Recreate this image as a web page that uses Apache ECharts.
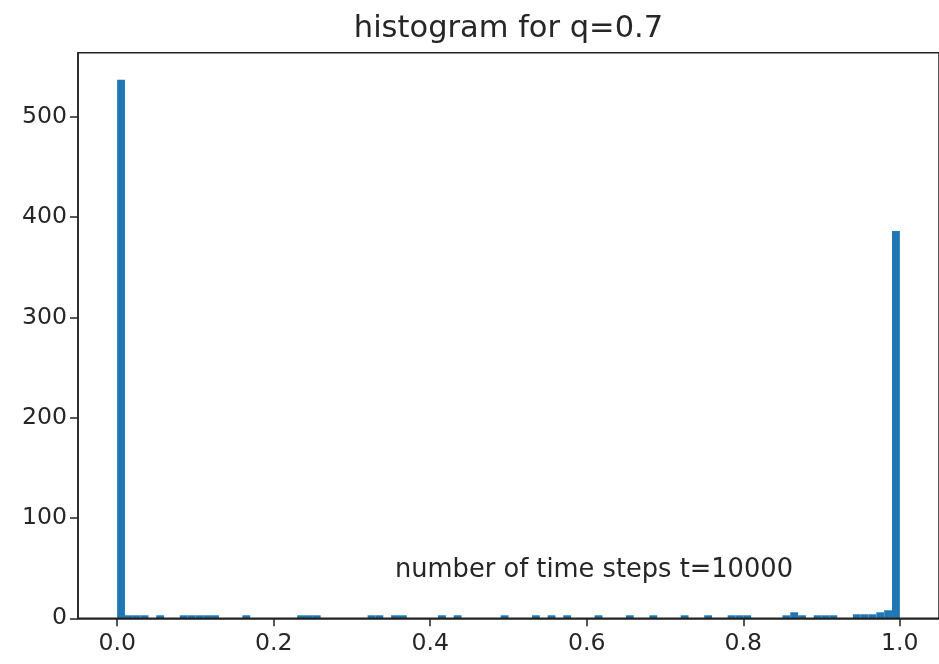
<!DOCTYPE html>
<html><head><meta charset="utf-8">
<script src="https://cdn.jsdelivr.net/npm/echarts@6/dist/echarts.min.js"></script>
<style>html,body{margin:0;padding:0;background:#fff}#c{width:939px;height:664px}</style>
</head><body><div id="c"></div>
<script>
const titleText = 'histogram for q=0.7';
const noteText = 'number of time steps t=10000';
const notePos = [0.355, 40];
const binWidth = 0.01;
const binIndex = [0, 1, 2, 3, 5, 8, 9, 10, 11, 12, 16, 23, 24, 25, 32, 33, 35, 36, 41, 43, 49, 53, 55, 57, 61, 65, 68, 72, 75, 78, 79, 80, 85, 86, 87, 89, 90, 91, 94, 95, 96, 97, 98, 99];
const counts   = [537, 3, 3, 3, 3, 3, 3, 3, 3, 3, 3, 3, 3, 3, 3, 3, 3, 3, 3, 3, 3, 3, 3, 3, 3, 3, 3, 3, 3, 3, 3, 3, 3, 6, 3, 3, 3, 3, 4, 4, 4, 6, 8, 386];
const xTicks = [0, 0.2, 0.4, 0.6, 0.8, 1.0];
const yTicks = [0, 100, 200, 300, 400, 500];

const FONT = 'DejaVu Sans';
const TXT = '#262626';
const AX = '#222';

const histData = binIndex.map((b, i) => [b * binWidth, (b + 1) * binWidth, counts[i]]);
const yMax = Math.max(...counts) * 1.05;

const chart = echarts.init(document.getElementById('c'), null, {renderer: 'canvas'});
chart.setOption({
  animation: false,
  backgroundColor: '#fff',
  grid: {left: 78, top: 52.7, bottom: 45.7, right: -10.6, show: true, borderColor: AX, borderWidth: 1.5, backgroundColor: 'transparent', z: 10},
  xAxis: {
    type: 'value', min: -0.05, max: 1.05, z: 10,
    splitLine: {show: false},
    axisLine: {show: true, onZero: false, lineStyle: {color: AX, width: 1.5}},
    axisTick: {show: true, length: 8, lineStyle: {color: AX, width: 1.5}, customValues: xTicks},
    axisLabel: {customValues: xTicks, margin: 14, fontFamily: FONT, fontSize: 23.6, color: TXT,
      formatter: v => v.toFixed(1)}
  },
  yAxis: {
    type: 'value', min: 0, max: yMax, z: 10,
    splitLine: {show: false},
    axisLine: {show: true, onZero: false, lineStyle: {color: AX, width: 1.5}},
    axisTick: {show: true, length: 8, lineStyle: {color: AX, width: 1.5}, customValues: yTicks},
    axisLabel: {customValues: yTicks, margin: 11, fontFamily: FONT, fontSize: 23.6, color: TXT}
  },
  series: [{
    type: 'custom',
    data: histData,
    encode: {x: [0, 1], y: 2},
    renderItem: function (params, api) {
      const p0 = api.coord([api.value(0), api.value(2)]);
      const p1 = api.coord([api.value(1), 0]);
      return {type: 'rect', shape: {x: p0[0], y: p0[1], width: p1[0] - p0[0], height: p1[1] - p0[1]},
        style: {fill: '#1f77b4'}};
    }
  }]
});

const notePx = chart.convertToPixel({gridIndex: 0}, notePos);
const gridRect = chart.getModel().getComponent('grid', 0).coordinateSystem.getRect();
chart.setOption({
  graphic: [
    {type: 'text', x: gridRect.x + gridRect.width / 2, y: gridRect.y - 8,
      style: {text: titleText, font: '30.5px "DejaVu Sans"', fill: TXT, align: 'center', verticalAlign: 'bottom'}},
    {type: 'text', x: notePx[0], y: notePx[1] + 5,
      style: {text: noteText, font: '25.7px "DejaVu Sans"', fill: TXT, align: 'left', verticalAlign: 'bottom'}}
  ]
});
</script>
</body></html>
